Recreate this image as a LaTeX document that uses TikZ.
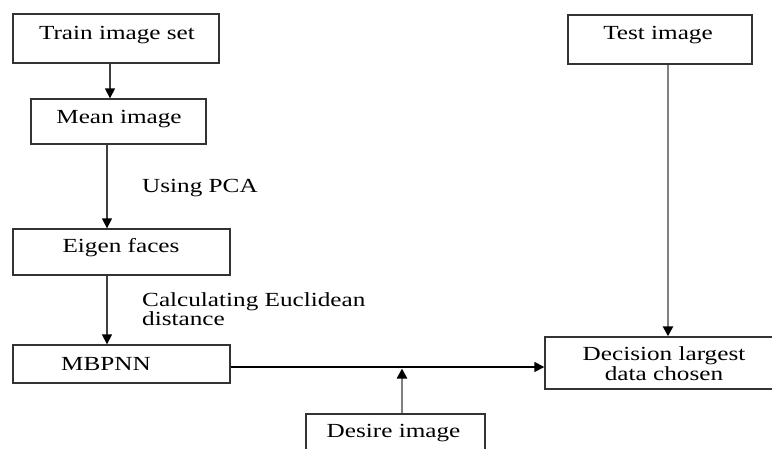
\documentclass[tikz,border=0pt]{standalone}
\usepackage{fontspec}
\setmainfont{Liberation Serif}[FakeStretch=1.26]
\usetikzlibrary{arrows.meta}
\begin{document}
\begin{tikzpicture}[x=1pt,y=-1pt,
  box/.style={draw=black!80,line width=1.4pt,inner sep=0pt},
  txt/.style={font=\fontsize{20}{20}\selectfont,inner sep=0pt,text=black},
  arr/.style={line width=1.6pt,draw=black!75,-{Triangle[length=10pt,width=10pt,color=black]}},
  garr/.style={line width=2.4pt,draw=black!50,-{Triangle[length=10pt,width=10pt,color=black]}}]
\useasboundingbox (0,0) rectangle (772,448);
\clip (0,0) rectangle (772,448);
% boxes
\node[box,minimum width=206pt,minimum height=49pt] (train) at (116,38.5) {};
\node[box,minimum width=175pt,minimum height=45pt] (mean) at (118.5,121.5) {};
\node[box,minimum width=217pt,minimum height=46pt] (eigen) at (121.5,252) {};
\node[box,minimum width=217pt,minimum height=38pt] (mbpnn) at (121.5,364) {};
\node[box,minimum width=184pt,minimum height=49pt] (test) at (660,39.5) {};
\node[box,minimum width=255pt,minimum height=52pt] (decision) at (672.5,363) {};
\node[box,minimum width=179pt,minimum height=56pt] (desire) at (395.5,442) {};
% texts
\node[txt,anchor=base] (ttrain) at (117,39.5) {Train image set};
\node[txt,anchor=base] (tmean) at (119,123) {Mean image};
\node[txt,anchor=base] (teigen) at (121,252.6) {Eigen faces};
\node[txt,anchor=base] (tmbpnn) at (106,370) {MBPNN};
\node[txt,anchor=base] (ttest) at (658,39) {Test image};
\node[txt,align=center] (tdec) at (664,363.3) {Decision largest\\data chosen};
\node[txt,anchor=base] (tdesire) at (393.5,437) {Desire image};
\node[txt,anchor=base west] (tpca) at (142,192) {Using PCA};
\node[txt,align=left,anchor=west,font=\fontsize{20}{18}\selectfont] (teuc) at (142,309.2) {Calculating Euclidean\\distance};
% connectors
\draw[arr] ([xshift=-6pt]train.south) -- ([xshift=-6pt]train.south |- mean.north);
\draw[arr] ([xshift=-11.5pt]mean.south) -- ([xshift=-11.5pt]mean.south |- eigen.north);
\draw[arr] ([xshift=-14.5pt]eigen.south) -- ([xshift=-14.5pt]eigen.south |- mbpnn.north);
\draw[arr,draw=black] ([yshift=-3pt]mbpnn.east) -- ([yshift=-3pt]mbpnn.east -| decision.west);
\coordinate (j) at ([xshift=6.5pt,yshift=-4.5pt]desire.north |- mbpnn.east);
\draw[garr] ([xshift=6.5pt]desire.north) -- (j);
\draw[garr] ([xshift=8pt]test.south) -- ([xshift=8pt]test.south |- decision.north);
\end{tikzpicture}
\end{document}
